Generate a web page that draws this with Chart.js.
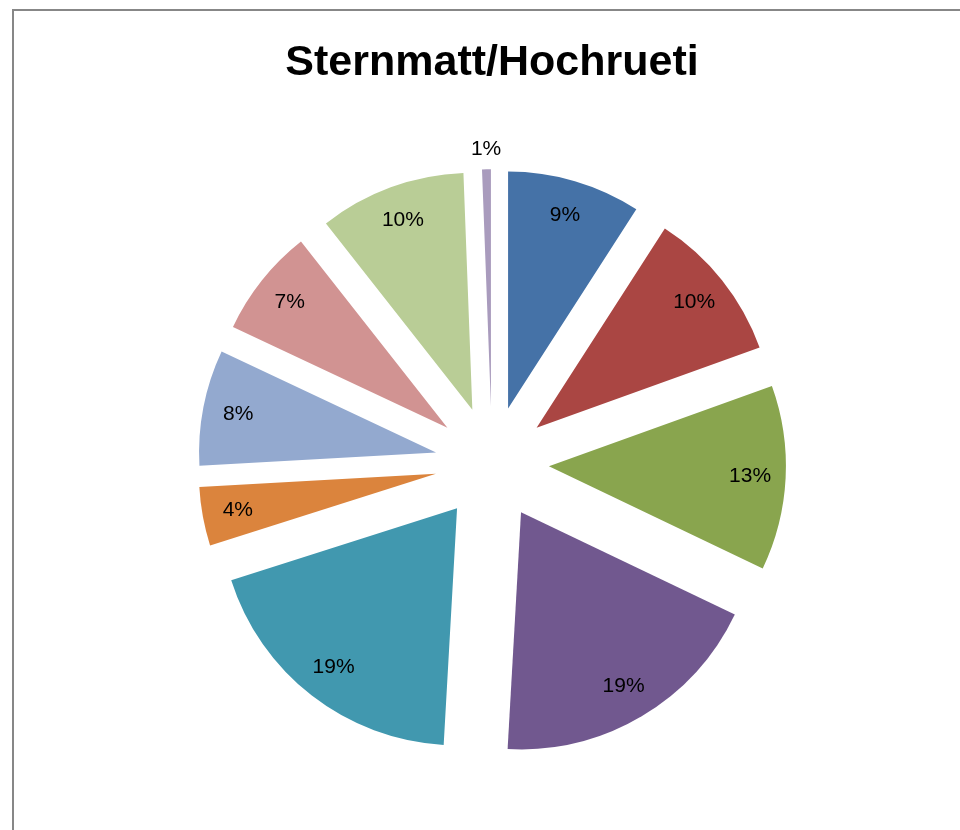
<!DOCTYPE html>
<html>
<head>
<meta charset="utf-8">
<script src="https://cdn.jsdelivr.net/npm/chart.js@4.4.1/dist/chart.umd.min.js"></script>
<style>
	html, body { margin: 0; padding: 0; background: #fff; overflow: hidden; }
	#frame { position: absolute; left: 12px; top: 9px; width: 1000px; height: 900px; border: 2px solid #878787; }
	#chart-sternmatt { position: absolute; left: 0; top: 0; }
</style>
</head>
<body>
<div id="frame"></div>
<canvas id="chart-sternmatt" width="960" height="830"></canvas>
<script>
// Chart data (shares in %)
const CATEGORIES = ["Anteil 1", "Anteil 2", "Anteil 3", "Anteil 4", "Anteil 5", "Anteil 6", "Anteil 7", "Anteil 8", "Anteil 9", "Anteil 10"];
const SHARES = [9.1, 10.4, 12.6, 18.8, 19.2, 4.0, 7.9, 7.4, 10.0, 0.6];
const SLICE_COLORS = ["#4572A7", "#AA4643", "#89A54E", "#71588F", "#4198AF", "#DB843D", "#93A9CF", "#D19392", "#B9CD96", "#A99BBD"];
const TITLE = "Sternmatt/Hochrueti";

const EXPLODE = 57; // px each slice is pulled out
const LABEL_FONT = "21px 'Liberation Sans', Arial, sans-serif";

// Pull every slice out along its bisector (same distance for all, like Excel)
const explodePlugin = {
	id: "explode",
	afterDatasetUpdate(chart, args) {
		args.meta.data.forEach((arc) => {
			const mid = (arc.startAngle + arc.endAngle) / 2;
			arc.x += Math.cos(mid) * EXPLODE;
			arc.y += Math.sin(mid) * EXPLODE;
		});
	},
};

// Percentage labels, inside the slice, tiny ones outside
const labelPlugin = {
	id: "sliceLabels",
	afterDatasetsDraw(chart) {
		const { ctx } = chart;
		const meta = chart.getDatasetMeta(0);
		const total = SHARES.reduce((a, b) => a + b, 0);
		ctx.save();
		ctx.font = LABEL_FONT;
		ctx.fillStyle = "#000";
		ctx.textAlign = "center";
		ctx.textBaseline = "middle";
		meta.data.forEach((arc, i) => {
			const pct = Math.round((SHARES[i] / total) * 100 + 1e-9);
			const mid = (arc.startAngle + arc.endAngle) / 2;
			const dist = pct < 2 ? arc.outerRadius + 20 : arc.outerRadius * 0.85;
			ctx.fillText(pct + "%", arc.x + Math.cos(mid) * dist, arc.y + Math.sin(mid) * dist);
		});
		ctx.restore();
	},
};

const CHART_CONFIG = {
	type: "pie",
	data: {
		labels: CATEGORIES,
		datasets: [
			{
				data: SHARES,
				backgroundColor: SLICE_COLORS,
				borderWidth: 0,
			},
		],
	},
	options: {
		responsive: false,
		animation: false,
		radius: 237,
		layout: {
			padding: { left: 24, right: 0, top: 37, bottom: 0 },
		},
		plugins: {
			legend: { display: false },
			tooltip: { enabled: false },
			title: {
				display: true,
				text: TITLE,
				color: "#000",
				font: { family: "'Liberation Sans', Arial, sans-serif", size: 43, weight: "bold" },
				padding: { top: 0, bottom: 8 },
			},
		},
	},
	plugins: [explodePlugin, labelPlugin],
};

new Chart(document.getElementById("chart-sternmatt"), CHART_CONFIG);
</script>
</body>
</html>
